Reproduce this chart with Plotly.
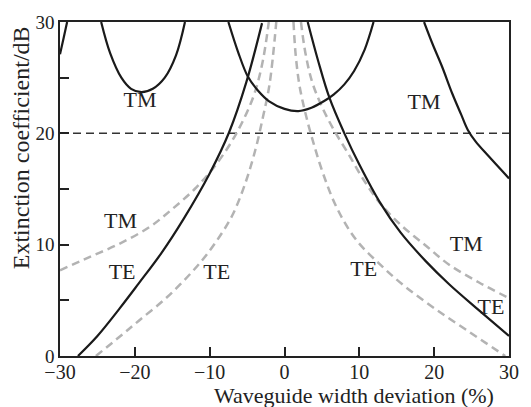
import plotly.graph_objects as go

# --- black curves (solid) ---
blk_tm1_x = [-30.0, -29.5, -29.05]
blk_tm1_y = [27.1, 28.6, 30.0]

blk_tm2_x = [-24.5, -23.3, -21.8, -20.5, -19.1, -17.6, -16.0, -14.5, -13.3]
blk_tm2_y = [30.0, 27.2, 25.0, 24.0, 23.7, 24.0, 25.0, 27.0, 30.0]

blk_tm3_x = [-7.5, -6.2, -4.9, -3.5, -2.1, 0.0, 1.85, 3.6, 5.3, 6.6, 8.0, 9.3, 10.7, 11.9]
blk_tm3_y = [30.0, 27.3, 25.1, 23.8, 22.9, 22.2, 22.0, 22.3, 22.9, 23.5, 24.4, 25.6, 27.5, 30.0]

blk_tm4_x = [18.65, 19.8, 21.05, 22.4, 23.6, 24.5, 25.5, 27.2, 30.0]
blk_tm4_y = [30.0, 28.0, 26.0, 23.6, 21.7, 20.3, 19.3, 18.0, 15.95]

blk_te_l_x = [-27.6, -25.0, -22.0, -19.5, -16.5, -13.5, -10.0, -7.4, -5.1, -3.0]
blk_te_l_y = [0.0, 1.8, 4.3, 6.5, 9.2, 12.3, 16.4, 20.1, 24.6, 29.9]

blk_te_r_x = [3.1, 4.5, 6.0, 8.0, 10.0, 12.75, 15.5, 18.9, 22.0, 26.0, 30.0]
blk_te_r_y = [30.0, 26.5, 23.2, 20.0, 17.2, 13.8, 11.1, 8.5, 6.45, 4.1, 1.8]

# --- gray curves (dashed) ---
gry_tm_l_x = [-30.0, -26.0, -22.0, -18.0, -15.0, -12.0, -9.5, -7.3, -5.5, -4.0, -2.9, -2.1]
gry_tm_l_y = [7.7, 8.9, 10.1, 11.6, 13.2, 15.0, 16.9, 19.0, 21.2, 23.6, 26.5, 30.0]

gry_te_l_x = [-25.2, -22.0, -19.5, -16.0, -13.4, -11.0, -9.0, -7.0, -5.3, -3.9, -2.9, -2.0, -1.1]
gry_te_l_y = [0.0, 1.75, 3.15, 5.1, 6.8, 8.6, 10.4, 12.6, 15.4, 18.5, 21.4, 24.4, 30.0]

gry_te_r_x = [1.2, 1.5, 2.0, 2.8, 3.8, 5.2, 7.0, 9.5, 12.8, 16.0, 20.0, 24.5, 29.5]
gry_te_r_y = [30.0, 27.0, 24.3, 21.8, 19.3, 16.3, 13.3, 10.5, 8.2, 6.3, 4.3, 2.25, 0.0]

gry_tm_r_x = [2.2, 2.8, 3.7, 5.0, 6.6, 8.5, 10.5, 12.8, 15.5, 18.9, 22.0, 26.0, 30.0]
gry_tm_r_y = [30.0, 27.2, 24.6, 22.4, 20.3, 18.2, 15.9, 13.7, 11.8, 9.9, 8.2, 6.6, 5.2]

# threshold level
threshold = 20.0
x_range = [-30, 30]
y_range = [0, 30]

# curve labels
label_text = ["TM", "TM", "TM", "TE", "TE", "TE", "TM", "TE"]
label_x = [-19.3, 18.65, -21.9, -21.7, -9.05, 10.6, 24.3, 27.6]
label_y = [22.9, 22.7, 12.0, 7.4, 7.4, 7.7, 9.9, 4.3]

x_tickvals = [-30, -20, -10, 0, 10, 20, 30]
y_tickvals = [0, 5, 10, 15, 20, 25, 30]
y_ticktext = ["0", "", "10", "", "20", "", "30"]

BLACK = "#1a1a1a"
GRAY = "#b3b3b3"
INK = "#222222"
FONT = "Liberation Serif"

fig = go.Figure()

fig.add_trace(go.Scatter(
    x=x_range, y=[threshold, threshold], mode="lines",
    line=dict(color="#333333", width=1.5, dash="8px,5px"), hoverinfo="skip"))

for gx, gy in [(gry_tm_l_x, gry_tm_l_y), (gry_te_l_x, gry_te_l_y),
               (gry_te_r_x, gry_te_r_y), (gry_tm_r_x, gry_tm_r_y)]:
    fig.add_trace(go.Scatter(
        x=gx, y=gy, mode="lines",
        line=dict(color=GRAY, width=2.5, dash="8px,5px", shape="spline", smoothing=1.0)))

for bx, by in [(blk_tm1_x, blk_tm1_y), (blk_tm2_x, blk_tm2_y), (blk_tm3_x, blk_tm3_y),
               (blk_tm4_x, blk_tm4_y), (blk_te_l_x, blk_te_l_y), (blk_te_r_x, blk_te_r_y)]:
    fig.add_trace(go.Scatter(
        x=bx, y=by, mode="lines",
        line=dict(color=BLACK, width=2.2, shape="spline", smoothing=1.0)))

fig.add_trace(go.Scatter(
    x=label_x, y=label_y, mode="text", text=label_text,
    textfont=dict(family=FONT, size=22, color=INK), cliponaxis=False))

fig.update_xaxes(
    range=x_range, tickvals=x_tickvals, ticks="inside", ticklen=9, tickwidth=1.5,
    tickcolor=INK, showline=True, linecolor=INK, linewidth=1.5,
    mirror=True, showgrid=False, zeroline=False, ticklabelstandoff=-3,
    tickfont=dict(family=FONT, size=20, color=INK))
fig.update_yaxes(
    range=y_range, tickvals=y_tickvals, ticktext=y_ticktext, ticks="inside",
    ticklen=9, tickwidth=1.5, tickcolor=INK, showline=True,
    linecolor=INK, linewidth=1.5, mirror=True, showgrid=False,
    zeroline=False, tickfont=dict(family=FONT, size=19, color=INK))

fig.update_layout(
    width=531, height=407,
    margin=dict(l=60, r=13, t=16, b=51),
    plot_bgcolor="white", paper_bgcolor="white",
    showlegend=False,
    annotations=[
        dict(text="Waveguide width deviation (%)", xref="paper", yref="paper",
             x=0.9716, y=-0.118, xanchor="right", yanchor="middle",
             showarrow=False, font=dict(family=FONT, size=22, color=INK)),
        dict(text="Extinction coefficient/dB", xref="paper", yref="paper",
             x=-0.088, y=0.6235, xanchor="center", yanchor="middle", textangle=-90,
             showarrow=False, font=dict(family=FONT, size=24, color=INK)),
    ])

fig.write_html("out.html")
